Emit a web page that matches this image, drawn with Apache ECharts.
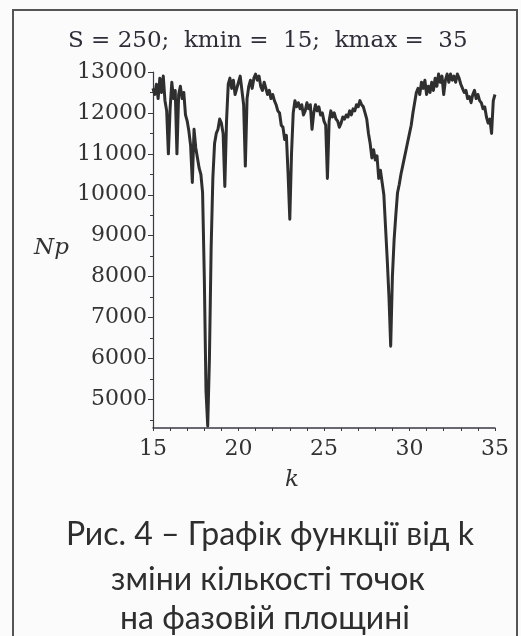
<!DOCTYPE html>
<html>
<head>
<meta charset="utf-8">
<script src="https://cdn.jsdelivr.net/npm/echarts@6/dist/echarts.min.js"></script>
<style>
html,body{margin:0;padding:0;background:#fbfbfb;}
#chart{width:521px;height:636px;}
</style>
</head>
<body>
<div id="chart"></div>
<script>
var titleText = 'S = 250;  kmin =  15;  kmax =  35';
var yAxisName = 'Np';
var xAxisName = 'k';
var captionLines = ['Рис. 4 – Графік функції від k', 'зміни кількості точок', 'на фазовій площині'];

var xTickLabels = [15, 20, 25, 30, 35];
var xMinorTicks = [15,16,17,18,19,20,21,22,23,24,25,26,27,28,29,30,31,32,33,34,35];
var yTickLabels = [5000, 6000, 7000, 8000, 9000, 10000, 11000, 12000, 13000];
var yMinorTicks = [4500,5000,5500,6000,6500,7000,7500,8000,8500,9000,9500,10000,10500,11000,11500,12000,12500,13000];

var kValues = [
15.0,15.1,15.2,15.3,15.4,15.5,15.6,15.7,15.8,15.9,
16.0,16.1,16.2,16.3,16.4,16.5,16.6,16.7,16.8,16.9,
17.0,17.1,17.2,17.3,17.4,17.5,17.6,17.7,17.8,17.9,
18.0,18.1,18.2,18.3,18.4,18.5,18.6,18.7,18.8,18.9,
19.0,19.1,19.2,19.3,19.4,19.5,19.6,19.7,19.8,19.9,
20.0,20.1,20.2,20.3,20.4,20.5,20.6,20.7,20.8,20.9,
21.0,21.1,21.2,21.3,21.4,21.5,21.6,21.7,21.8,21.9,
22.0,22.1,22.2,22.3,22.4,22.5,22.6,22.7,22.8,22.9,
23.0,23.1,23.2,23.3,23.4,23.5,23.6,23.7,23.8,23.9,
24.0,24.1,24.2,24.3,24.4,24.5,24.6,24.7,24.8,24.9,
25.0,25.1,25.2,25.3,25.4,25.5,25.6,25.7,25.8,25.9,
26.0,26.1,26.2,26.3,26.4,26.5,26.6,26.7,26.8,26.9,
27.0,27.1,27.2,27.3,27.4,27.5,27.6,27.7,27.8,27.9,
28.0,28.1,28.2,28.3,28.4,28.5,28.6,28.7,28.8,28.9,
29.0,29.1,29.2,29.3,29.4,29.5,29.6,29.7,29.8,29.9,
30.0,30.1,30.2,30.3,30.4,30.5,30.6,30.7,30.8,30.9,
31.0,31.1,31.2,31.3,31.4,31.5,31.6,31.7,31.8,31.9,
32.0,32.1,32.2,32.3,32.4,32.5,32.6,32.7,32.8,32.9,
33.0,33.1,33.2,33.3,33.4,33.5,33.6,33.7,33.8,33.9,
34.0,34.1,34.2,34.3,34.4,34.5,34.6,34.7,34.8,34.9,
35.0
];

var npValues = [
12600,12450,12700,12350,12850,12500,12900,12300,12050,11000,
12100,12750,12350,12550,11000,12450,12650,12350,12500,11950,
11800,11550,11200,10300,11600,11150,10900,10650,10500,10050,
8000,5200,4350,6000,8700,10400,11250,11500,11600,11850,
11750,11500,10200,11800,12700,12850,12600,12800,12450,12600,
12750,12900,12550,12200,10700,12350,12650,12800,12600,12850,
12950,12800,12900,12650,12550,12750,12600,12450,12550,12350,
12450,12300,12200,12050,12000,11700,11650,11350,11450,10500,
9400,11000,12000,12300,12150,12250,12100,12200,11950,12050,
12250,12100,12200,11600,12000,12200,12050,12150,11950,12000,
11800,11700,10400,11800,12050,11900,12000,11850,11800,11650,
11750,11900,11850,11950,11900,12050,11950,12100,12050,12200,
12150,12300,12200,12150,12000,11850,11500,11250,10900,11100,
10850,10950,10400,10600,10300,10000,9200,8400,7500,6300,
8000,8900,9500,10050,10250,10500,10700,10900,11100,11300,
11500,11700,12000,12250,12500,12600,12450,12750,12600,12800,
12450,12650,12500,12750,12550,12850,12650,12950,12750,12900,
12450,12800,12950,12750,12950,12800,12900,12750,12950,12850,
12700,12600,12500,12550,12350,12400,12250,12450,12550,12350,
12450,12300,12250,12100,12150,11900,11750,11850,11500,12300,
12450
];

var seriesData = kValues.map(function (k, i) { return [k, npValues[i]]; });

var chart = echarts.init(document.getElementById('chart'), null, {renderer: 'canvas'});
var serif = 'DejaVu Serif';
var axisColor = '#3a3a44';
var plain = function (v) { return String(v); };

var option = {
  backgroundColor: '#fbfbfb',
  animation: false,
  title: {
    text: titleText,
    left: 63,
    top: 25,
    textStyle: {fontFamily: serif, fontSize: 23, fontWeight: 'normal', color: '#2e2e3a'}
  },
  grid: {left: 153, right: 26, top: 72, bottom: 208, containLabel: false},
  xAxis: [{
    type: 'value',
    min: 15, max: 35, interval: 5,
    axisLine: {lineStyle: {color: axisColor, width: 1.5}},
    axisTick: {show: true, customValues: xMinorTicks, length: 3, inside: false, lineStyle: {color: axisColor}},
    axisLabel: {customValues: xTickLabels, formatter: plain, margin: 10, fontFamily: serif, fontSize: 22, color: '#333'},
    splitLine: {show: false}
  }],
  yAxis: [{
    type: 'value',
    min: 4300, max: 13000,
    axisLine: {show: true, lineStyle: {color: axisColor, width: 1.2}},
    axisTick: {show: true, customValues: yTickLabels, length: 5, lineStyle: {color: axisColor}},
    axisLabel: {customValues: yTickLabels, formatter: plain, margin: 6, fontFamily: serif, fontSize: 22, color: '#333'},
    splitLine: {show: false}
  }, {
    type: 'value',
    position: 'left',
    min: 4300, max: 13000,
    axisLine: {show: false},
    axisTick: {show: true, customValues: yMinorTicks, length: 3, lineStyle: {color: axisColor}},
    axisLabel: {show: false},
    splitLine: {show: false}
  }],
  series: [{
    type: 'line',
    data: seriesData,
    showSymbol: false,
    symbol: 'none',
    lineStyle: {color: '#2f2f2f', width: 3, join: 'round'},
    xAxisIndex: 0,
    yAxisIndex: 0
  }],
  graphic: [
    {type: 'rect', shape: {x: 13, y: 10, width: 504, height: 660}, style: {fill: 'none', stroke: '#555', lineWidth: 2}, silent: true},
    {type: 'text', left: 34, top: 237, style: {text: yAxisName, font: 'italic 23px "DejaVu Serif"', fill: '#333'}},
    {type: 'text', left: 285, top: 469, style: {text: xAxisName, font: 'italic 23px "DejaVu Serif"', fill: '#333'}},
    {type: 'text', x: 270, y: 535, style: {text: captionLines[0], font: '32px Lato', fill: '#2e2e2e', align: 'center', verticalAlign: 'middle'}},
    {type: 'text', x: 268, y: 580, style: {text: captionLines[1], font: '32px Lato', fill: '#2e2e2e', align: 'center', verticalAlign: 'middle'}},
    {type: 'text', x: 265, y: 619, style: {text: captionLines[2], font: '32px Lato', fill: '#2e2e2e', align: 'center', verticalAlign: 'middle'}}
  ]
};
chart.setOption(option);
</script>
</body>
</html>
